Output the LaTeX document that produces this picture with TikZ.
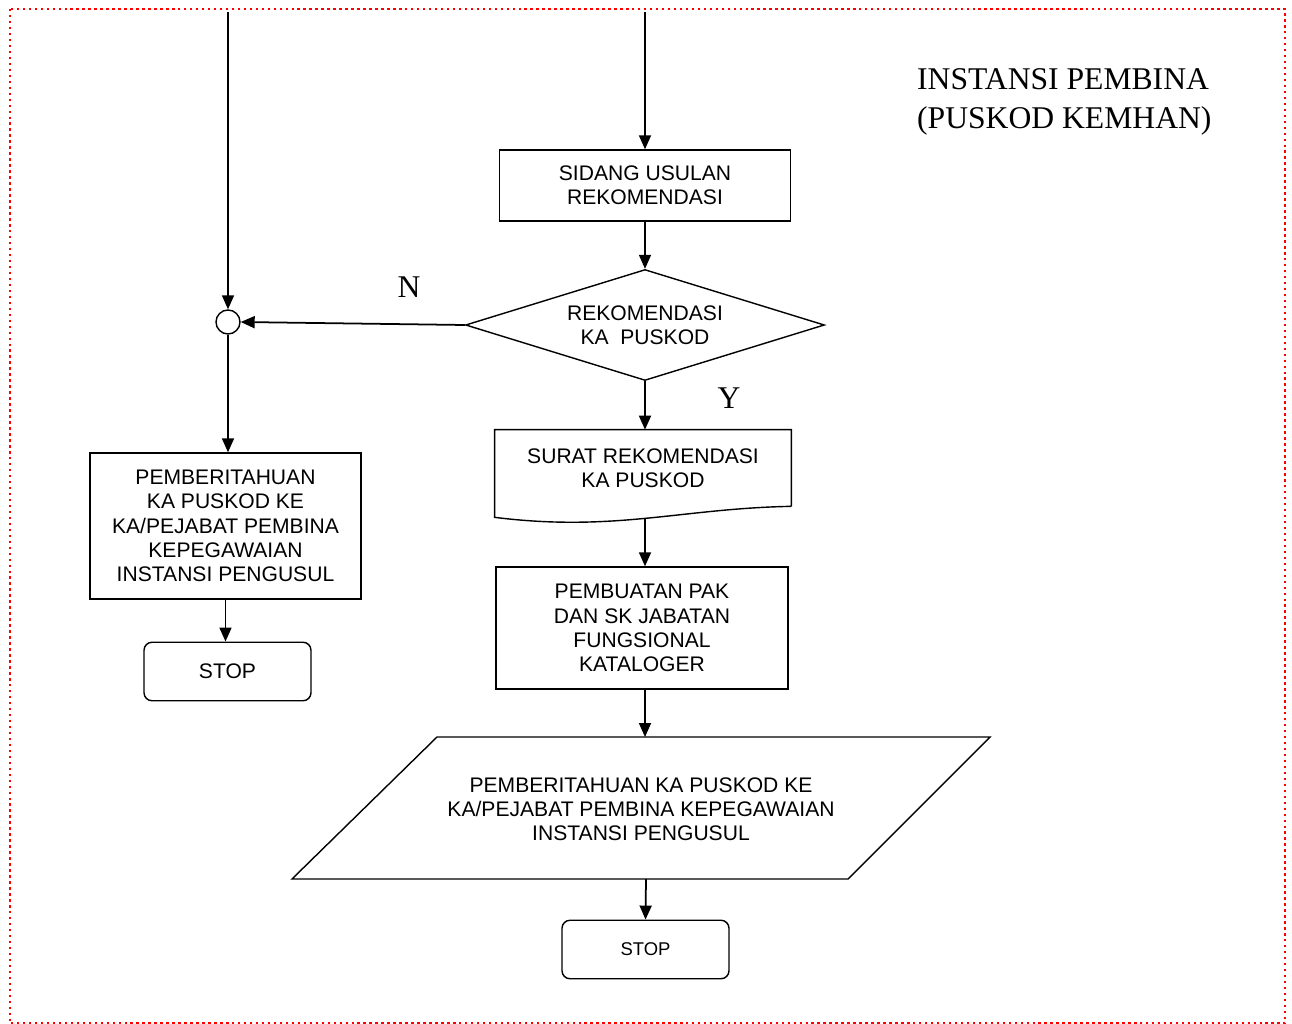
\documentclass[tikz,border=0pt]{standalone}
\usepackage{fontspec}
\setmainfont{Liberation Sans}
\newfontfamily\titlefont{Liberation Serif}
\usepackage{xcolor}
\usepackage{tikz}
\usetikzlibrary{positioning,arrows.meta,calc,shapes.geometric}
\definecolor{frame}{RGB}{255,0,0}
\tikzset{
  proc/.style={rectangle, draw, line width=0.8pt, align=center, inner sep=2pt,
               font=\fontsize{12}{13.8}\selectfont},
  decis/.style={diamond, draw, line width=0.8pt, align=center, inner sep=0pt,
                aspect=3.23, minimum width=7.18cm, minimum height=2.22cm,
                font=\fontsize{12}{13.8}\selectfont},
  docbox/.style={rectangle, align=center, inner sep=2pt, minimum width=5.92cm,
                 minimum height=1.52cm, font=\fontsize{12}{13.8}\selectfont},
  stopbox/.style={rectangle, draw, line width=0.8pt, rounded corners=0.16cm,
                  minimum width=3.34cm, minimum height=1.17cm},
  joint/.style={circle, draw, line width=0.8pt, minimum size=0.48cm, inner sep=0pt},
  flow/.style={-{Triangle[length=2.8mm,width=2.4mm]}, line width=1pt},
  yn/.style={font=\titlefont\fontsize{18}{22}\selectfont},
  outline/.style={draw, line width=0.8pt}
}

\begin{document}
\begin{tikzpicture}[x=0.02cm, y=-0.02cm]
\useasboundingbox (0,0) rectangle (1292,1024);
\draw[frame, line width=1.3pt, dash pattern=on 1.4pt off 2pt] (10,9) rectangle (1285,1023.5);
% title
\node[yn, anchor=west, align=left] (ttl) at (911,102) {INSTANSI PEMBINA\\(PUSKOD KEMHAN)};
% right column
\coordinate (ct) at (645,12);
\node[proc, minimum width=5.82cm, minimum height=1.42cm] (su) at (645,185.5) {SIDANG USULAN\\REKOMENDASI};
\node[decis] (rk) at (645,325) {REKOMENDASI\\KA\ \ PUSKOD};
\node[docbox] (sr) at (643,468) {SURAT REKOMENDASI\\KA PUSKOD};
\draw[line width=0.8pt] (sr.south east) -- (sr.north east) -- (sr.north west) -- ($(sr.south west)+(0,11)$)
  .. controls ($(sr.south west)+(120,26)$) and ($(sr.south east)+(-110,2)$) .. (sr.south east);
\coordinate (srb) at ($(sr.south)+(2,13)$);
\node[proc, minimum width=5.84cm, minimum height=2.44cm] (pk) at (642,628) {PEMBUATAN PAK\\DAN SK JABATAN\\FUNGSIONAL\\KATALOGER};
\draw[outline] (437,737) -- (990,737) -- (848,879) -- (292,879) -- cycle;
\node[align=center, font=\fontsize{12}{13.8}\selectfont] (pt) at (641,809) {PEMBERITAHUAN KA PUSKOD KE\\KA/PEJABAT PEMBINA KEPEGAWAIAN\\INSTANSI PENGUSUL};
\coordinate (ptn) at (645,737);
\coordinate (pts) at (646,879);
\node[stopbox, font=\fontsize{10.5}{12}\selectfont] (s2) at (645.5,949.5) {STOP};
% left column
\coordinate (lt) at (228,12);
\node[joint] (j) at (228,322) {};
\node[proc, minimum width=5.42cm, minimum height=2.92cm] (pb) at (225.5,526) {PEMBERITAHUAN\\KA PUSKOD KE\\KA/PEJABAT PEMBINA\\KEPEGAWAIAN\\INSTANSI PENGUSUL};
\node[stopbox, font=\fontsize{12}{13.8}\selectfont, text depth=0pt, yshift=-0.05cm] (s1) at (227.5,669) {STOP};
% labels
\node[yn] (n) at (409,287) {N};
\node[yn] (y) at (729,398) {Y};
% flow lines
\draw[flow] (ct) -- (su.north);
\draw[flow] (su.south) -- (rk.north);
\draw[flow] (rk.south) -- (rk.south |- sr.north);
\draw[flow] (srb) -- (srb |- pk.north);
\draw[flow] (pk.south -| ptn) -- (ptn);
\draw[flow] (pts) -- (s2.north);
\draw[flow] (rk.west) -- (j.east);
\draw[flow] (lt) -- (j.north);
\draw[flow] (j.south) -- (j.south |- pb.north);
\draw[flow] (pb.south) -- (pb.south |- s1.north);
\end{tikzpicture}
\end{document}
